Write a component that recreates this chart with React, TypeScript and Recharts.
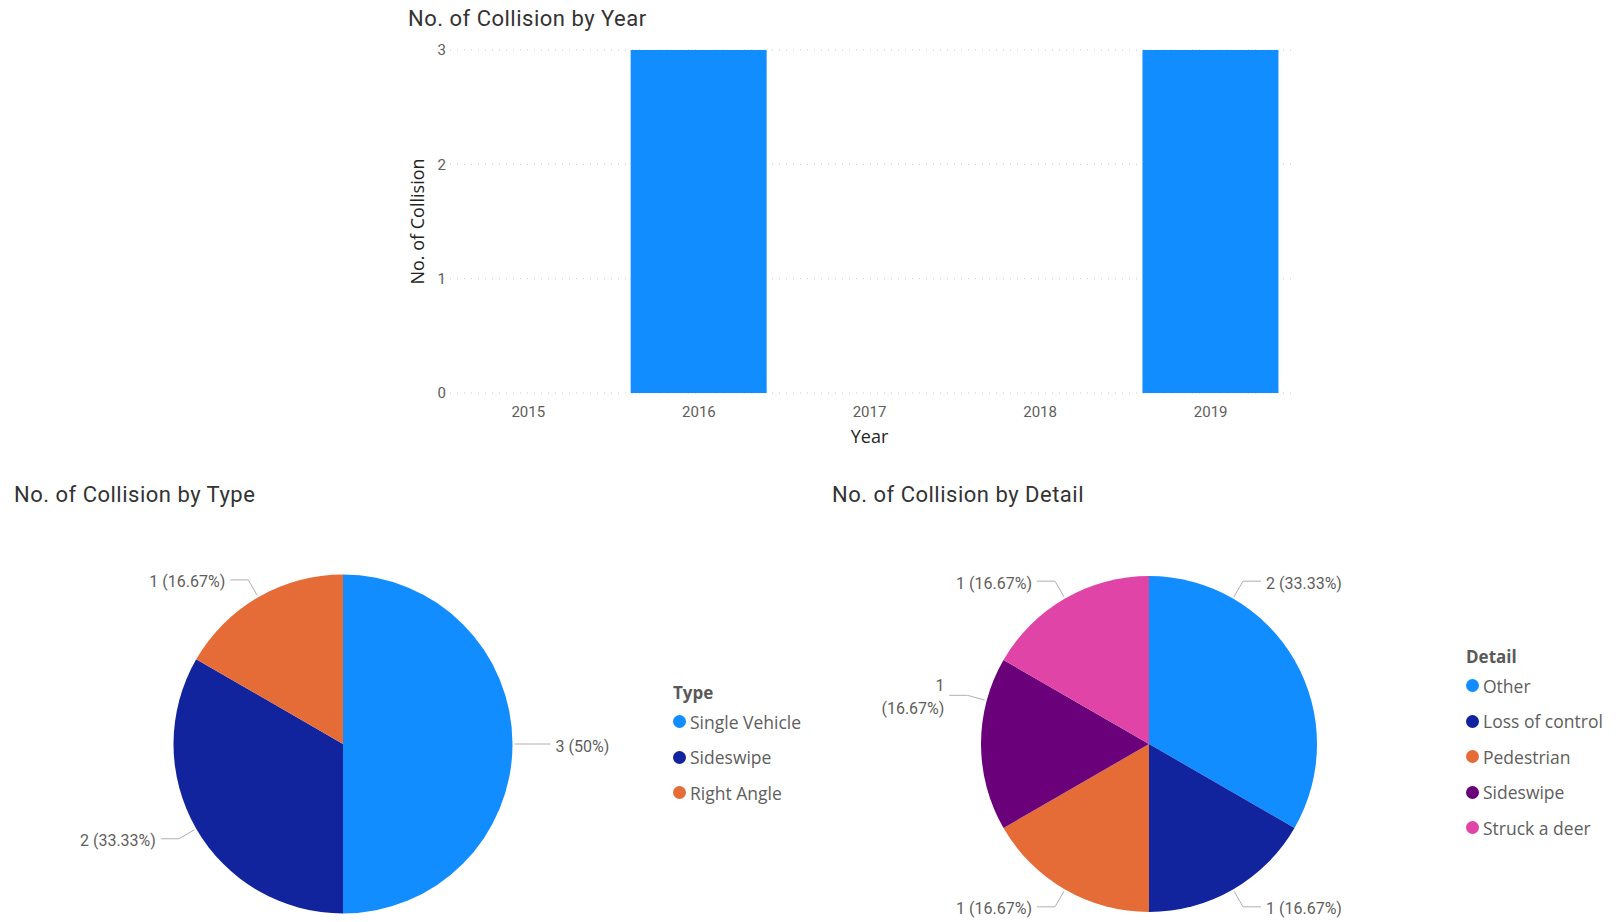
import { BarChart, Bar, XAxis, YAxis, CartesianGrid, PieChart, Pie, Cell, Legend } from 'recharts'

const years = ['2015', '2016', '2017', '2018', '2019']
const collisionsByYear = [0, 3, 0, 0, 3]
const yearTicks = [0, 1, 2, 3]

const typeNames = ['Single Vehicle', 'Sideswipe', 'Right Angle']
const typeValues = [3, 2, 1]
const typeColors = ['#118DFF', '#12239E', '#E66C37']

const detailNames = ['Other', 'Loss of control', 'Pedestrian', 'Sideswipe', 'Struck a deer']
const detailValues = [2, 1, 1, 1, 1]
const detailColors = ['#118DFF', '#12239E', '#E66C37', '#6B007B', '#E044A7']

const yearData = years.map((year, i) => ({ year, value: collisionsByYear[i] }))
const typeData = typeNames.map((name, i) => ({ name, value: typeValues[i] }))
const detailData = detailNames.map((name, i) => ({ name, value: detailValues[i] }))

const RAD = Math.PI / 180
const labelFont = 'Roboto, "DejaVu Sans", sans-serif'
const uiFont = '"Open Sans", sans-serif'

// power bi nudges a few leader lines off the slice middle, so allow an angle per slice
function makeLabel(minX: number, angleFix: Record<number, number> = {}) {
  return (props: any) => {
    const { cx, cy, outerRadius, value, percent, index } = props
    const angle = angleFix[index] ?? props.midAngle
    const cos = Math.cos(-angle * RAD)
    const sin = Math.sin(-angle * RAD)
    const sx = cx + (outerRadius + 2) * cos
    const sy = cy + (outerRadius + 2) * sin
    const ex = cx + (outerRadius + 20) * cos
    const ey = cy + (outerRadius + 20) * sin
    const right = cos >= 0
    const hx = ex + (right ? 18 : -18)
    const tx = hx + (right ? 5 : -5)
    const pct = `(${+(percent * 100).toFixed(2)}%)`
    const text = `${value} ${pct}`
    const wrap = !right && tx - text.length * 8.2 < minX
    return (
      <g>
        <polyline points={`${sx},${sy} ${ex},${ey} ${hx},${ey}`} fill="none" stroke="#B3B0AD" strokeWidth={1} />
        {wrap ? (
          <text x={tx} y={ey} textAnchor="end" fill="#605E5C" fontSize={16} fontFamily={labelFont}>
            <tspan x={tx} dy={-4}>{value}</tspan>
            <tspan x={tx} dy={23}>{pct}</tspan>
          </text>
        ) : (
          <text x={tx} y={ey} dy={7.5} textAnchor={right ? 'start' : 'end'} fill="#605E5C" fontSize={16} fontFamily={labelFont}>
            {text}
          </text>
        )}
      </g>
    )
  }
}

function makeLegend(title: string) {
  return (props: any) => (
    <div style={{ fontFamily: uiFont, color: '#605E5C' }}>
      <div style={{ fontWeight: 700, fontSize: 17, lineHeight: '22px', color: '#595959' }}>{title}</div>
      {(props.payload || []).map((entry: any) => (
        <div key={entry.value} style={{ display: 'flex', alignItems: 'center', height: 35.5, fontSize: 17.5, whiteSpace: 'nowrap' }}>
          <span style={{ width: 13, height: 13, borderRadius: '50%', background: entry.color, display: 'inline-block', marginRight: 4 }} />
          {entry.value}
        </div>
      ))}
    </div>
  )
}

const titleStyle = {
  position: 'absolute' as const,
  fontFamily: 'Roboto, sans-serif',
  fontSize: 22,
  letterSpacing: 0.5,
  lineHeight: '26px',
  color: '#333333',
  whiteSpace: 'nowrap' as const,
}

export default function App() {
  return (
    <div style={{ position: 'absolute', left: 0, top: 0, width: 1616, height: 922, background: '#fff', overflow: 'hidden' }}>
      <div style={{ ...titleStyle, left: 408, top: 6 }}>No. of Collision by Year</div>
      <div style={{ position: 'absolute', left: 0, top: 0 }}>
        <BarChart width={1616} height={449} data={yearData} margin={{ top: 50, right: 320, bottom: 0, left: 403 }} barCategoryGap="10%">
          <CartesianGrid vertical={false} stroke="#C8C6C4" strokeDasharray="1 6" />
          <XAxis
            dataKey="year"
            height={56}
            axisLine={false}
            tickLine={false}
            tick={{ fill: '#605E5C', fontSize: 15, fontFamily: labelFont, dy: 5 }}
            label={{ value: 'Year', position: 'insideBottom', offset: 6, fill: '#252423', fontSize: 18, fontFamily: uiFont }}
          />
          <YAxis
            width={40}
            domain={[0, 3]}
            ticks={yearTicks}
            axisLine={false}
            tickLine={false}
            tick={{ fill: '#605E5C', fontSize: 15, fontFamily: labelFont, dx: 11 }}
            label={{ value: 'No. of Collision', angle: -90, position: 'center', dx: -5, fill: '#252423', fontSize: 18, fontFamily: uiFont }}
          />
          <Bar dataKey="value" fill="#118DFF" isAnimationActive={false} />
        </BarChart>
      </div>

      <div style={{ ...titleStyle, left: 14, top: 482 }}>No. of Collision by Type</div>
      <div style={{ position: 'absolute', left: 0, top: 470 }}>
        <PieChart width={808} height={452}>
          <Pie
            data={typeData}
            dataKey="value"
            nameKey="name"
            cx={338}
            cy={269}
            outerRadius={169.5}
            startAngle={90}
            endAngle={-270}
            stroke="none"
            label={makeLabel(60)}
            labelLine={false}
            isAnimationActive={false}
          >
            {typeData.map((d, i) => (
              <Cell key={d.name} fill={typeColors[i]} />
            ))}
          </Pie>
          <Legend
            content={makeLegend('Type')}
            itemSorter={(item: any) => typeNames.indexOf(item.value)}
            wrapperStyle={{ position: 'absolute', left: 673, top: 212, width: 200 }}
          />
        </PieChart>
      </div>

      <div style={{ ...titleStyle, left: 832, top: 482 }}>No. of Collision by Detail</div>
      <div style={{ position: 'absolute', left: 808, top: 470 }}>
        <PieChart width={808} height={452}>
          <Pie
            data={detailData}
            dataKey="value"
            nameKey="name"
            cx={336}
            cy={269}
            outerRadius={168}
            startAngle={90}
            endAngle={-270}
            stroke="none"
            label={makeLabel(60, { 0: 60, 3: 165 })}
            labelLine={false}
            isAnimationActive={false}
          >
            {detailData.map((d, i) => (
              <Cell key={d.name} fill={detailColors[i]} />
            ))}
          </Pie>
          <Legend
            content={makeLegend('Detail')}
            itemSorter={(item: any) => detailNames.indexOf(item.value)}
            wrapperStyle={{ position: 'absolute', left: 658, top: 176, width: 158 }}
          />
        </PieChart>
      </div>
    </div>
  )
}
